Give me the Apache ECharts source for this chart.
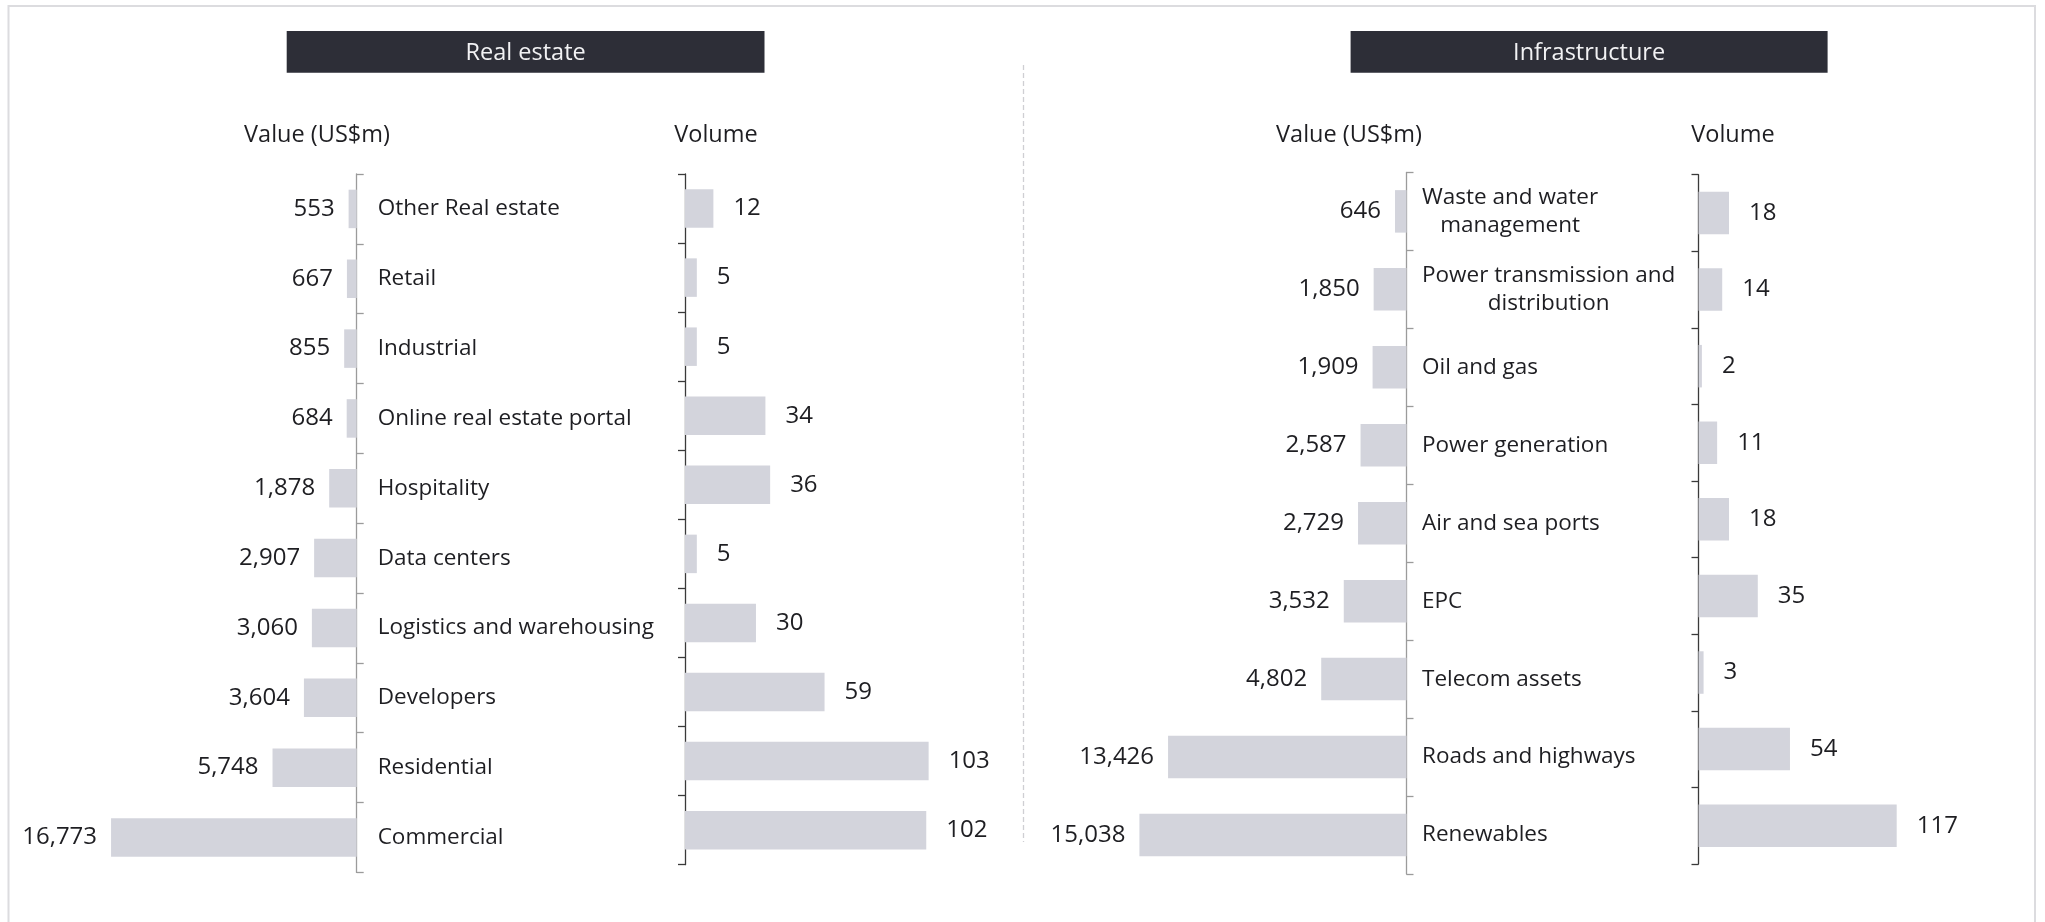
<!DOCTYPE html>
<html>
<head>
<meta charset="utf-8">
<script src="https://cdn.jsdelivr.net/npm/echarts@6/dist/echarts.min.js"></script>
<style>
  html, body { margin: 0; padding: 0; background: #ffffff; }
  #chart { width: 2045px; height: 922px; }
</style>
</head>
<body>
<div id="chart"></div>
<script>
// ---- data ----
const realEstateCategories = ['Other Real estate', 'Retail', 'Industrial', 'Online real estate portal', 'Hospitality',
  'Data centers', 'Logistics and warehousing', 'Developers', 'Residential', 'Commercial'];
const realEstateValue = [553, 667, 855, 684, 1878, 2907, 3060, 3604, 5748, 16773];
const realEstateVolume = [12, 5, 5, 34, 36, 5, 30, 59, 103, 102];

const infraCategories = ['Waste and water\nmanagement', 'Power transmission and\ndistribution', 'Oil and gas',
  'Power generation', 'Air and sea ports', 'EPC', 'Telecom assets', 'Roads and highways', 'Renewables'];
const infraValue = [646, 1850, 1909, 2587, 2729, 3532, 4802, 13426, 15038];
const infraVolume = [18, 14, 2, 11, 18, 35, 3, 54, 117];

const panelTitles = ['Real estate', 'Infrastructure'];
const columnHeaders = ['Value (US$m)', 'Volume'];

// ---- styling ----
const FONT = '"Open Sans", "Noto Sans", sans-serif';
const TEXT = '#1e1e22';
const BAR = '#d3d4dc';
const fmt = v => Number(v).toLocaleString('en-US');

// four panels: value / volume for each sector
const grids = [
  { left: 63.8,   top: 174,   width: 292.9, height: 698.4 },
  { left: 685,    top: 174,   width: 354.8, height: 690.7 },
  { left: 1051.3, top: 172.4, width: 355.2, height: 701.6 },
  { left: 1698.5, top: 174.7, width: 254.1, height: 689.3 }
];

function valueXAxis(i, max, inverse) {
  return {
    type: 'value', gridIndex: i, min: 0, max: max, inverse: inverse,
    axisLine: { show: false }, axisTick: { show: false },
    axisLabel: { show: false }, splitLine: { show: false }
  };
}

function categoryYAxis(i, cats, isValueSide, margin) {
  return {
    type: 'category', gridIndex: i, data: cats, inverse: true,
    position: isValueSide ? 'right' : 'left',
    axisLine: { show: true, lineStyle: { color: isValueSide ? '#9b9b9b' : '#3a3a3a', width: 1.3 } },
    axisTick: { show: true, length: 7, lineStyle: { color: isValueSide ? '#9b9b9b' : '#3a3a3a', width: 1.3 } },
    axisLabel: isValueSide ? {
      show: true, align: 'left', margin: margin,
      formatter: v => v.split('\n').map(s => '{c|' + s + '}').join('\n'),
      rich: { c: { align: 'center', fontSize: 22.5, lineHeight: 28, fontFamily: FONT, color: TEXT } }
    } : { show: false },
    splitLine: { show: false }
  };
}

function barSeries(i, data, barWidth, side, distance) {
  return {
    type: 'bar', xAxisIndex: i, yAxisIndex: i, data: data, barWidth: barWidth,
    itemStyle: { color: BAR }, silent: true, animation: false,
    label: {
      show: true, position: side, distance: distance,
      fontSize: 24, fontFamily: FONT, color: TEXT,
      formatter: p => fmt(p.value)
    }
  };
}

function headerText(x, y, text, size) {
  return {
    type: 'text', x: x, y: y, silent: true,
    style: { text: text, font: size + 'px ' + FONT, fill: TEXT,
      align: 'center', verticalAlign: 'middle', textAlign: 'center', textVerticalAlign: 'middle' }
  };
}

function titleBox(x, width, text) {
  return [
    { type: 'rect', shape: { x: x, y: 31, width: width, height: 41.7 }, style: { fill: '#2d2e37' }, silent: true },
    { type: 'text', x: x + width / 2, y: 53, silent: true,
      style: { text: text, font: '23.5px ' + FONT, fill: '#f2f2f4',
        align: 'center', verticalAlign: 'middle', textAlign: 'center', textVerticalAlign: 'middle' } }
  ];
}

const option = {
  backgroundColor: '#ffffff',
  animation: false,
  grid: grids,
  xAxis: [
    valueXAxis(0, 20000, true),
    valueXAxis(1, 150, false),
    valueXAxis(2, 20000, true),
    valueXAxis(3, 150, false)
  ],
  yAxis: [
    categoryYAxis(0, realEstateCategories, true, 21),
    categoryYAxis(1, realEstateCategories, false, 0),
    categoryYAxis(2, infraCategories, true, 15.5),
    categoryYAxis(3, infraCategories, false, 0)
  ],
  series: [
    barSeries(0, realEstateValue, 38.5, 'left', 14),
    barSeries(1, realEstateVolume, 38.5, 'right', 20),
    barSeries(2, infraValue, 42.5, 'left', 14),
    barSeries(3, infraVolume, 42.5, 'right', 20)
  ],
  graphic: [
    // outer frame
    { type: 'rect', shape: { x: 8.5, y: 6, width: 2026.5, height: 940 }, silent: true,
      style: { fill: 'none', stroke: '#dcdcdf', lineWidth: 2 } },
    // divider between the two sectors
    { type: 'line', shape: { x1: 1023.5, y1: 65, x2: 1023.5, y2: 842 }, silent: true,
      style: { stroke: '#cfcfd3', lineWidth: 1.3, lineDash: [5, 3] } },
    ...titleBox(286.7, 477.8, panelTitles[0]),
    ...titleBox(1350.6, 477, panelTitles[1]),
    headerText(317, 135.5, columnHeaders[0], 23.5),
    headerText(716, 135.5, columnHeaders[1], 23.5),
    headerText(1349, 135.5, columnHeaders[0], 23.5),
    headerText(1733, 135.5, columnHeaders[1], 23.5)
  ]
};

const chart = echarts.init(document.getElementById('chart'), null, { renderer: 'canvas' });
chart.setOption(option);
</script>
</body>
</html>
